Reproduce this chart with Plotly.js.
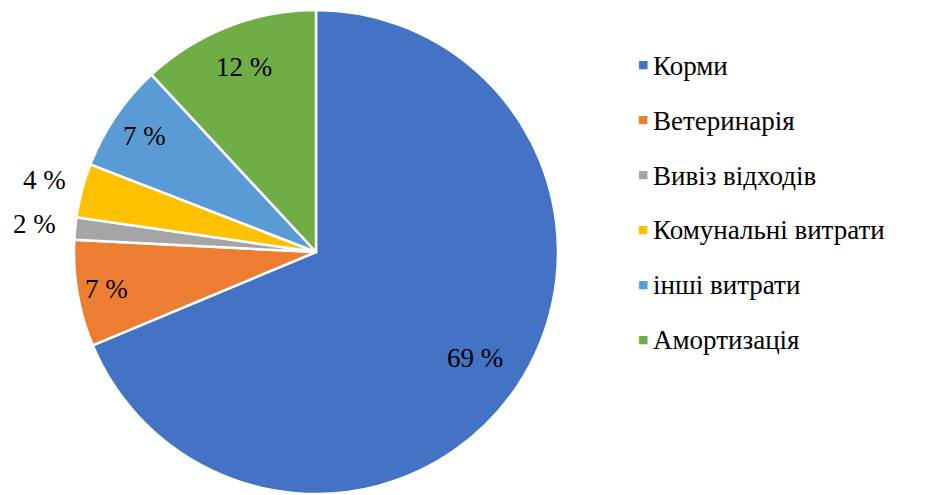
<!DOCTYPE html>
<html>
<head>
<meta charset="utf-8">
<script src="https://cdn.plot.ly/plotly-3.0.1.min.js"></script>
</head>
<body style="margin:0;background:#fff">
<div id="warm" style="position:absolute;left:700px;top:430px;z-index:0;color:#ffffff;font-family:'Liberation Serif';font-size:27px;line-height:27px">Корми %</div>
<div id="chart" style="position:relative;z-index:1;width:934px;height:495px"></div>
<script>
const categories = ["Корми", "Ветеринарія", "Вивіз відходів", "Комунальні витрати", "інші витрати", "Амортизація"];
const values = [68.7, 7.1, 1.5, 3.6, 7.2, 11.9];
const colors = ["#4472C4", "#ED7D31", "#A5A5A5", "#FFC000", "#5B9BD5", "#70AD47"];
// radial placement of each value label, as a fraction of the pie radius
const labelRadius = [0.79, 0.88, 1.17, 1.16, 0.855, 0.82];

const total = values.reduce((a, b) => a + b, 0);
const labelsText = values.map(v => Math.round(v / total * 100) + " %");

const W = 934, H = 495;
const FONT = "Liberation Serif";
const FS = 27;

// pie geometry (pixels)
const px0 = 74, px1 = 558, pyTop = 10, pyBot = 494;
const cx = (px0 + px1) / 2, cy = (pyTop + pyBot) / 2, R = (px1 - px0) / 2;

const trace = {
  type: "pie",
  labels: categories,
  values: values,
  textinfo: "none",
  sort: false,
  direction: "clockwise",
  rotation: 0,
  marker: {colors: colors, line: {color: "#ffffff", width: 2.5}},
  domain: {x: [px0 / W, px1 / W], y: [1 - pyBot / H, 1 - pyTop / H]},
  hoverinfo: "label+percent",
  showlegend: false
};

const annotations = [];
let acc = 0;
values.forEach((v, i) => {
  const mid = (acc + v / 2) / total * 2 * Math.PI;
  acc += v;
  const x = cx + Math.sin(mid) * R * labelRadius[i];
  const y = cy - Math.cos(mid) * R * labelRadius[i];
  annotations.push({
    xref: "paper", yref: "paper", x: x / W, y: 1 - y / H,
    xanchor: "center", yanchor: "middle", showarrow: false,
    text: labelsText[i], font: {family: FONT, size: FS}
  });
});

const legendX = 636, legendY0 = 65, legendStep = 54.8;
categories.forEach((c, i) => {
  const y = legendY0 + i * legendStep;
  annotations.push({
    xref: "paper", yref: "paper", x: legendX / W, y: 1 - y / H,
    xanchor: "left", yanchor: "middle", showarrow: false,
    text: "■", font: {family: "DejaVu Sans", size: 11, color: colors[i]}
  });
  annotations.push({
    xref: "paper", yref: "paper", x: (legendX + 15) / W, y: 1 - (y + 1) / H,
    xanchor: "left", yanchor: "middle", showarrow: false,
    text: c, font: {family: FONT, size: FS}
  });
});

const layout = {
  width: W, height: H,
  margin: {l: 0, r: 0, t: 0, b: 0},
  paper_bgcolor: "#ffffff",
  showlegend: false,
  annotations: annotations,
  font: {color: "#000000"}
};

const draw = () => Plotly.newPlot("chart", [trace], layout, {displayModeBar: false});
if (document.fonts && document.fonts.load) {
  document.fonts.load(FS + "px '" + FONT + "'", "Корми 69 %").then(draw, draw);
} else {
  draw();
}
</script>
</body>
</html>
